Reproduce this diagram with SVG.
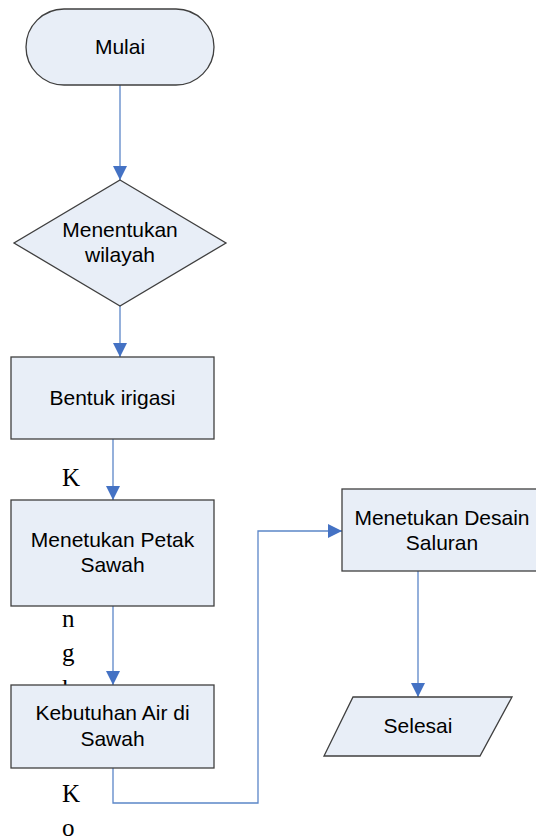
<svg xmlns="http://www.w3.org/2000/svg" width="536" height="840" viewBox="0 0 536 840">
<style>
.box{fill:#E8EEF7;stroke:#3F3F3F;stroke-width:1.3}
.t{font-family:"Liberation Sans",Arial,sans-serif;font-size:21px;fill:#000;text-anchor:middle}
.s{font-family:"Liberation Serif","Times New Roman",serif;font-size:25px;fill:#000}
.c{fill:none;stroke:#5B86C8;stroke-width:1.3}
</style>
<defs>
<marker id="ah" markerWidth="14" markerHeight="14" refX="14" refY="7" orient="auto" markerUnits="userSpaceOnUse">
<path d="M0,0 L14,7 L0,14 Z" fill="#4472C4"/>
</marker>
</defs>
<rect width="536" height="840" fill="#fff"/>
<g id="stray-text">
<text class="s" x="62" y="486">K</text>
<text class="s" x="62" y="627">n</text>
<text class="s" x="62" y="661">g</text>
<text class="s" x="62" y="697">k</text>
<text class="s" x="62" y="802">K</text>
<text class="s" x="62" y="836">o</text>
</g>
<g id="connectors">
<path class="c" d="M120,85 L120,180" marker-end="url(#ah)"/>
<path class="c" d="M120,306 L120,357" marker-end="url(#ah)"/>
<path class="c" d="M113,439 L113,500" marker-end="url(#ah)"/>
<path class="c" d="M113,606 L113,685" marker-end="url(#ah)"/>
<path class="c" d="M113,768 L113,803 L258,803 L258,531 L342,531" marker-end="url(#ah)"/>
<path class="c" d="M418,571 L418,697" marker-end="url(#ah)"/>
</g>
<g id="mulai">
<rect class="box" x="26" y="9" width="188" height="76" rx="38" ry="38"/>
<text class="t" x="120" y="54">Mulai</text>
</g>
<g id="menentukan-wilayah">
<polygon class="box" points="120,180 226,243 120,306 14,243"/>
<text class="t" x="120" y="237">Menentukan</text>
<text class="t" x="120" y="262">wilayah</text>
</g>
<g id="bentuk-irigasi">
<rect class="box" x="11" y="357" width="203" height="82"/>
<text class="t" x="112.5" y="405">Bentuk irigasi</text>
</g>
<g id="petak-sawah">
<rect class="box" x="11" y="500" width="203" height="106"/>
<text class="t" x="112.5" y="547">Menetukan Petak</text>
<text class="t" x="112.5" y="572">Sawah</text>
</g>
<g id="kebutuhan-air">
<rect class="box" x="11" y="685" width="203" height="83"/>
<text class="t" x="112.5" y="720">Kebutuhan Air di</text>
<text class="t" x="112.5" y="746">Sawah</text>
</g>
<g id="desain-saluran">
<rect class="box" x="342" y="489" width="203" height="82"/>
<text class="t" x="442" y="525">Menetukan Desain</text>
<text class="t" x="442" y="550">Saluran</text>
</g>
<g id="selesai">
<polygon class="box" points="353,697 512,697 480,756 324,756"/>
<text class="t" x="418" y="733">Selesai</text>
</g>
</svg>
